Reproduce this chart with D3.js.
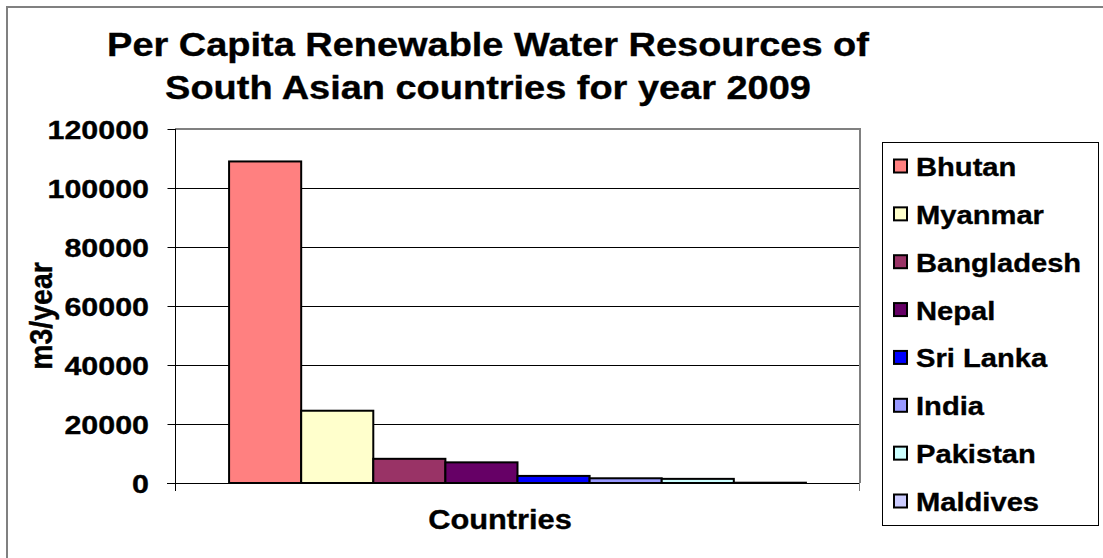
<!DOCTYPE html>
<html>
<head>
<meta charset="utf-8">
<script src="https://cdn.jsdelivr.net/npm/d3@7"></script>
<style>
  html, body { margin: 0; padding: 0; background: #fff; }
  svg { display: block; font-family: Arial, "Liberation Sans", sans-serif; font-weight: bold; }
</style>
</head>
<body>
<svg id="chart" width="1103" height="558"></svg>
<script>
// Per capita renewable water resources, m3/year, 2009
const countries = ["Bhutan", "Myanmar", "Bangladesh", "Nepal", "Sri Lanka", "India", "Pakistan", "Maldives"];
const values = [109000, 24500, 8200, 7000, 2400, 1600, 1400, 100];
const colors = ["#FF8080", "#FFFFCC", "#993366", "#660066", "#0000FF", "#9999FF", "#CCFFFF", "#CCCCFF"];
const yTicks = [0, 20000, 40000, 60000, 80000, 100000, 120000];
const category = ["Countries"];
const titleLines = ["Per Capita Renewable Water Resources of", "South Asian countries for year 2009"];

const svg = d3.select("#chart");
const W = 1103, H = 558;
const plot = { left: 175, right: 860, top: 129, bottom: 483 };

// outer chart frame
svg.append("rect")
  .attr("x", 7).attr("y", 7).attr("width", W + 20).attr("height", H + 20)
  .attr("fill", "#fff").attr("stroke", "#808080").attr("stroke-width", 2);

const x0 = d3.scaleBand().domain(category).range([plot.left, plot.right])
  .paddingInner(0).paddingOuter(0.09375);
const x1 = d3.scaleBand().domain(countries).range([0, x0.bandwidth()]).padding(0);
const y = d3.scaleLinear().domain([0, 120000]).range([plot.bottom, plot.top]);

// gridlines
svg.append("g").selectAll("line").data(yTicks.filter(d => d > 0 && d < 120000)).join("line")
  .attr("x1", plot.left).attr("x2", plot.right)
  .attr("y1", d => Math.round(y(d)) + 0.5).attr("y2", d => Math.round(y(d)) + 0.5)
  .attr("stroke", "#000").attr("stroke-width", 1);

// plot area border (top & right)
svg.append("path")
  .attr("d", `M${plot.left},${plot.top} H${plot.right} V${plot.bottom}`)
  .attr("fill", "none").attr("stroke", "#808080").attr("stroke-width", 2);

// bars
const g = svg.append("g").attr("transform", `translate(${x0("Countries")},0)`);
g.selectAll("rect").data(countries).join("rect")
  .attr("x", d => x1(d))
  .attr("y", (d, i) => y(values[i]))
  .attr("width", x1.bandwidth())
  .attr("height", (d, i) => y(0) - y(values[i]))
  .attr("fill", (d, i) => colors[i])
  .attr("stroke", "#000").attr("stroke-width", 2);

// y axis
const yAxis = d3.axisLeft(y).tickValues(yTicks).tickSize(8).tickFormat(d3.format("d"));
const ya = svg.append("g").attr("transform", `translate(${plot.left + 0.5},0)`).call(yAxis);
ya.select(".domain").attr("stroke", "#000").attr("d", `M0,${plot.top}V${plot.bottom + 8}`);
ya.selectAll(".tick line").attr("stroke", "#000");
ya.selectAll(".tick text").remove();

// x axis line with boundary ticks
const xa = svg.append("g");
xa.append("line").attr("x1", plot.left - 8).attr("x2", plot.right)
  .attr("y1", plot.bottom + 0.5).attr("y2", plot.bottom + 0.5).attr("stroke", "#000");
xa.append("line").attr("x1", plot.right - 0.5).attr("x2", plot.right - 0.5)
  .attr("y1", plot.bottom).attr("y2", plot.bottom + 8).attr("stroke", "#808080");

// text helper with horizontal glyph stretch
function label(parent, txt, x, yy, size, anchor, sx, rot) {
  return parent.append("text")
    .attr("transform", `translate(${x},${yy}) scale(${sx},1)` + (rot ? ` rotate(${rot})` : ""))
    .attr("text-anchor", anchor)
    .attr("font-size", size)
    .attr("fill", "#000")
    .attr("stroke", "#000").attr("stroke-width", 0.35)
    .text(txt);
}

// tick labels
yTicks.forEach(t => {
  label(svg, d3.format("d")(t), 149, y(t) + 9.5, 26, "end", 1.17);
});

// titles
label(svg, titleLines[0], 488, 56, 33, "middle", 1.15);
label(svg, titleLines[1], 488, 99, 33, "middle", 1.15);
label(svg, "m3/year", 52, 316, 28.5, "middle", 1.1, -90);
label(svg, category[0], 500, 529, 28, "middle", 1.1);

// legend
const lg = svg.append("g");
lg.append("rect").attr("x", 882.5).attr("y", 142.5).attr("width", 216).attr("height", 383)
  .attr("fill", "#fff").attr("stroke", "#000").attr("stroke-width", 1);
const ly = d3.scalePoint().domain(countries).range([166.5, 501.5]);
countries.forEach((c, i) => {
  lg.append("rect")
    .attr("x", 894).attr("y", ly(c) - 7).attr("width", 13).attr("height", 13)
    .attr("fill", colors[i]).attr("stroke", "#000").attr("stroke-width", 2);
  label(lg, c, 916, ly(c) + 9.5, 26.5, "start", 1.1);
});
</script>
</body>
</html>
